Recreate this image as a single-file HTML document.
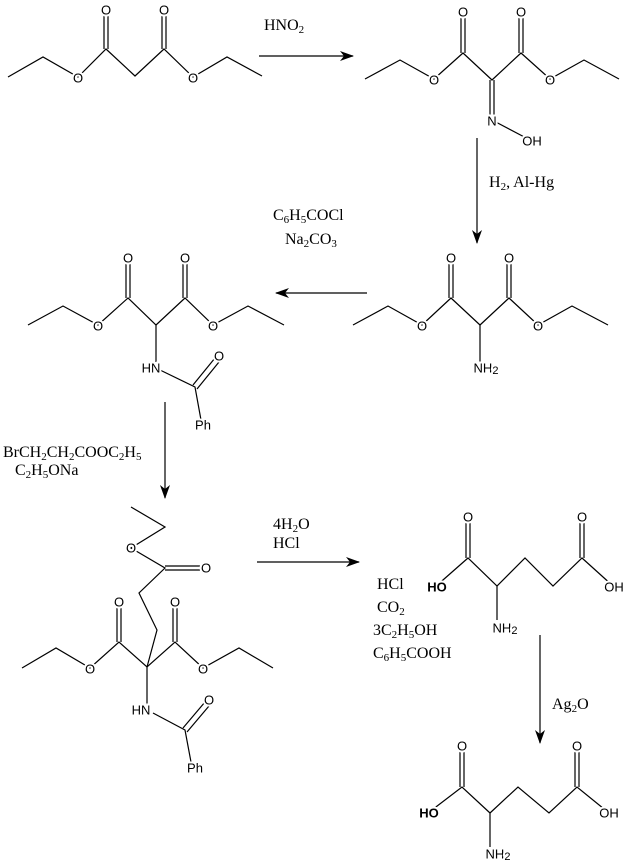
<!DOCTYPE html>
<html><head><meta charset="utf-8"><style>
html,body{margin:0;padding:0;background:#fff;}
svg{display:block;}
.b line,.b polyline{stroke:#000;stroke-width:1.2;fill:none;}
.a{font-family:"Liberation Sans",sans-serif;font-size:13px;text-anchor:middle;dominant-baseline:central;stroke:#fff;stroke-width:4;paint-order:stroke;fill:#000;}
.r{font-family:"Liberation Serif",serif;font-size:16px;fill:#000;}
.s{font-size:11px;}
</style></head><body>
<svg width="627" height="864" viewBox="0 0 627 864" xmlns="http://www.w3.org/2000/svg">
<defs><marker id="ah" markerWidth="14" markerHeight="10" refX="13" refY="5" orient="auto" markerUnits="userSpaceOnUse"><path d="M0,0 L14,5 L0,10 L4,5 Z" fill="#000"/></marker></defs>
<g class="b">
<polyline points="8,77 43,57 78,77 106,49 135,76 164,49 193,77 227,57 262,76"/>
<line x1="104" y1="49" x2="104" y2="15"/><line x1="108" y1="49" x2="108" y2="15"/>
<line x1="162" y1="49" x2="162" y2="15"/><line x1="166" y1="49" x2="166" y2="15"/>
<line x1="259" y1="56" x2="353" y2="56" marker-end="url(#ah)"/>
<polyline points="365,79 400,60 434,79 463,53 492,80 521,53 550,79 584,60 619,79"/>
<line x1="461" y1="53" x2="461" y2="17"/><line x1="465" y1="53" x2="465" y2="17"/>
<line x1="519" y1="53" x2="519" y2="17"/><line x1="523" y1="53" x2="523" y2="17"/>
<line x1="490" y1="80" x2="490" y2="118"/><line x1="494" y1="80" x2="494" y2="118"/>
<line x1="492" y1="120" x2="530" y2="140"/>
<line x1="477" y1="138" x2="477" y2="243" marker-end="url(#ah)"/>
<polyline points="353,325 388,306 422,325 451,298 480,325 509,298 538,325 572,306 608,325"/>
<line x1="449" y1="298" x2="449" y2="263"/><line x1="453" y1="298" x2="453" y2="263"/>
<line x1="507" y1="298" x2="507" y2="263"/><line x1="511" y1="298" x2="511" y2="263"/>
<line x1="480" y1="325" x2="480" y2="362"/>
<line x1="367" y1="293" x2="276" y2="293" marker-end="url(#ah)"/>
<polyline points="28,325 63,306 98,325 128,298 156,325 185,298 213,325 248,306 284,325"/>
<line x1="126" y1="298" x2="126" y2="263"/><line x1="130" y1="298" x2="130" y2="263"/>
<line x1="183" y1="298" x2="183" y2="263"/><line x1="187" y1="298" x2="187" y2="263"/>
<line x1="156" y1="325" x2="156" y2="362"/>
<polyline points="160,370 195,387 201,420"/>
<line x1="193" y1="385" x2="215" y2="358"/><line x1="197" y1="389" x2="219" y2="362"/>
<line x1="165" y1="402" x2="165" y2="498" marker-end="url(#ah)"/>
<polyline points="131,507 165,527 131,548 165,568 139,593 157,630 147,667"/>
<line x1="165" y1="566" x2="200" y2="566"/><line x1="165" y1="570" x2="200" y2="570"/>
<polyline points="22,668 56,648 90,668 119,642 147,667 175,642 203,668 239,648 273,668"/>
<line x1="117" y1="642" x2="117" y2="607"/><line x1="121" y1="642" x2="121" y2="607"/>
<line x1="173" y1="642" x2="173" y2="607"/><line x1="177" y1="642" x2="177" y2="607"/>
<line x1="147" y1="667" x2="147" y2="705"/>
<polyline points="153,713 185,730 191,762"/>
<line x1="183" y1="728" x2="205" y2="702"/><line x1="187" y1="732" x2="209" y2="706"/>
<line x1="257" y1="562" x2="359" y2="562" marker-end="url(#ah)"/>
<polyline points="435,587 468,558 497,586 525,558 553,586 582,558 613,586"/>
<line x1="466" y1="558" x2="466" y2="522"/><line x1="470" y1="558" x2="470" y2="522"/>
<line x1="580" y1="558" x2="580" y2="522"/><line x1="584" y1="558" x2="584" y2="522"/>
<line x1="497" y1="586" x2="497" y2="620"/>
<line x1="540" y1="635" x2="540" y2="743" marker-end="url(#ah)"/>
<polyline points="428,813 462,787 490,813 518,787 549,813 577,787 609,813"/>
<line x1="460" y1="787" x2="460" y2="751"/><line x1="464" y1="787" x2="464" y2="751"/>
<line x1="575" y1="787" x2="575" y2="751"/><line x1="579" y1="787" x2="579" y2="751"/>
<line x1="490" y1="813" x2="490" y2="847"/>
</g>
<g class="a">
<text x="78" y="78">O</text><text x="193" y="78">O</text><text x="106" y="10">O</text><text x="164" y="10">O</text>
<text x="434" y="80">O</text><text x="550" y="80">O</text><text x="463" y="12">O</text><text x="521" y="12">O</text>
<text x="492" y="121">N</text><text x="532" y="141">OH</text>
<text x="422" y="326">O</text><text x="538" y="326">O</text><text x="451" y="258">O</text><text x="509" y="258">O</text>
<text x="486" y="368">NH<tspan class="s" dy="3">2</tspan></text>
<text x="98" y="326">O</text><text x="213" y="326">O</text><text x="128" y="258">O</text><text x="185" y="258">O</text>
<text x="151" y="368">HN</text><text x="219" y="356">O</text><text x="203" y="425">Ph</text>
<text x="131" y="548">O</text><text x="206" y="568">O</text><text x="90" y="669">O</text><text x="203" y="669">O</text>
<text x="119" y="602">O</text><text x="175" y="602">O</text>
<text x="141" y="710">HN</text><text x="209" y="700">O</text><text x="195" y="768">Ph</text>
<text x="437" y="587" font-weight="bold">HO</text><text x="614" y="587">OH</text><text x="468" y="517">O</text><text x="582" y="517">O</text>
<text x="505" y="628">NH<tspan class="s" dy="3">2</tspan></text>
<text x="429" y="813" font-weight="bold">HO</text><text x="609" y="813">OH</text><text x="462" y="746">O</text><text x="577" y="746">O</text>
<text x="498" y="854">NH<tspan class="s" dy="3">2</tspan></text>
</g>
<g class="r">
<text x="264" y="30">HNO<tspan class="s" dy="3">2</tspan></text>
<text x="489" y="187">H<tspan class="s" dy="3">2</tspan><tspan dy="-3">, Al-Hg</tspan></text>
<text x="273" y="220">C<tspan class="s" dy="3">6</tspan><tspan dy="-3">H</tspan><tspan class="s" dy="3">5</tspan><tspan dy="-3">COCl</tspan></text>
<text x="285" y="244">Na<tspan class="s" dy="3">2</tspan><tspan dy="-3">CO</tspan><tspan class="s" dy="3">3</tspan></text>
<text x="3" y="457">BrCH<tspan class="s" dy="3">2</tspan><tspan dy="-3">CH</tspan><tspan class="s" dy="3">2</tspan><tspan dy="-3">COOC</tspan><tspan class="s" dy="3">2</tspan><tspan dy="-3">H</tspan><tspan class="s" dy="3">5</tspan></text>
<text x="15" y="475">C<tspan class="s" dy="3">2</tspan><tspan dy="-3">H</tspan><tspan class="s" dy="3">5</tspan><tspan dy="-3">ONa</tspan></text>
<text x="273" y="529">4H<tspan class="s" dy="3">2</tspan><tspan dy="-3">O</tspan></text>
<text x="273" y="548">HCl</text>
<text x="377" y="589">HCl</text>
<text x="377" y="612">CO<tspan class="s" dy="3">2</tspan></text>
<text x="373" y="635">3C<tspan class="s" dy="3">2</tspan><tspan dy="-3">H</tspan><tspan class="s" dy="3">5</tspan><tspan dy="-3">OH</tspan></text>
<text x="373" y="658">C<tspan class="s" dy="3">6</tspan><tspan dy="-3">H</tspan><tspan class="s" dy="3">5</tspan><tspan dy="-3">COOH</tspan></text>
<text x="552" y="709">Ag<tspan class="s" dy="3">2</tspan><tspan dy="-3">O</tspan></text>
</g>
</svg>
</body></html>
